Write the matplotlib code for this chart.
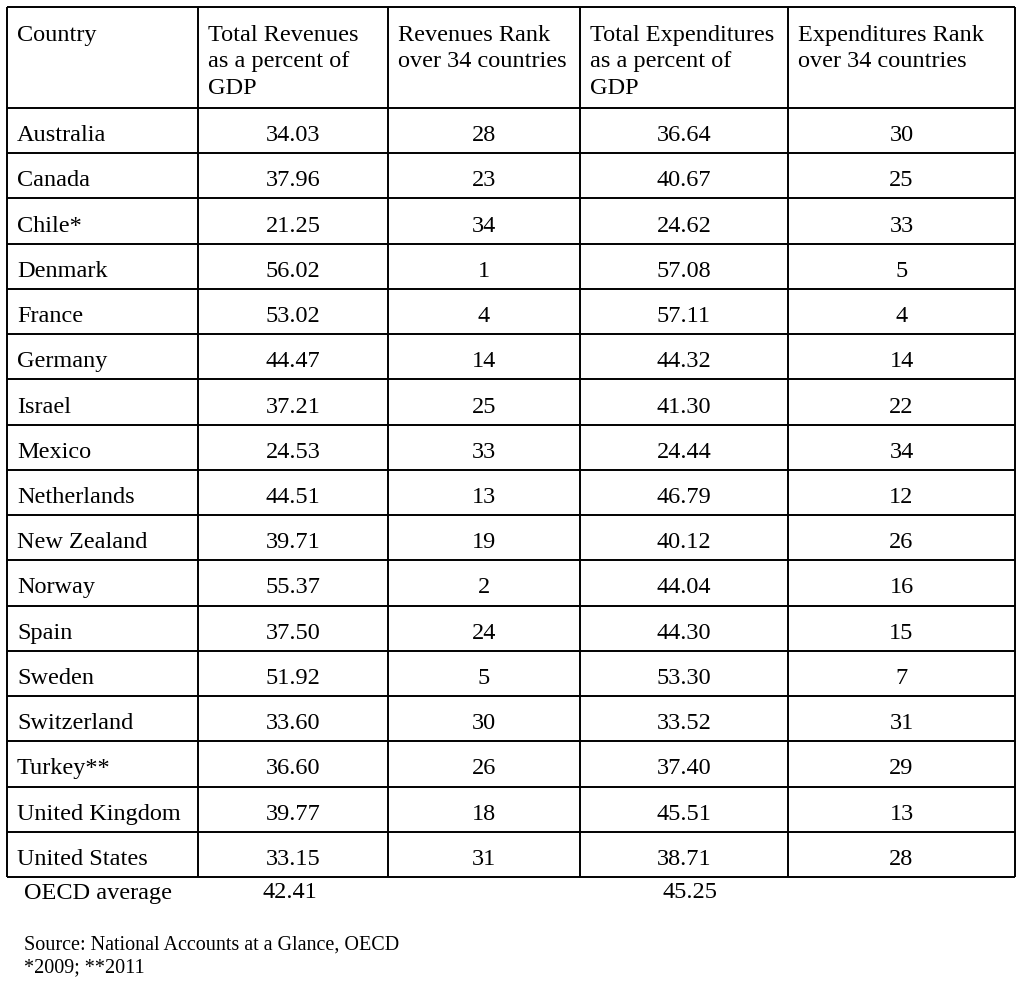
import matplotlib.pyplot as plt

countries = ["Australia", "Canada", "Chile*", "Denmark", "France", "Germany",
             "Israel", "Mexico", "Netherlands", "New Zealand", "Norway",
             "Spain", "Sweden", "Switzerland", "Turkey**", "United Kingdom",
             "United States"]
revenues = ["34.03", "37.96", "21.25", "56.02", "53.02", "44.47", "37.21",
            "24.53", "44.51", "39.71", "55.37", "37.50", "51.92", "33.60",
            "36.60", "39.77", "33.15"]
rev_rank = [28, 23, 34, 1, 4, 14, 25, 33, 13, 19, 2, 24, 5, 30, 26, 18, 31]
expenditures = ["36.64", "40.67", "24.62", "57.08", "57.11", "44.32", "41.30",
                "24.44", "46.79", "40.12", "44.04", "44.30", "53.30", "33.52",
                "37.40", "45.51", "38.71"]
exp_rank = [30, 25, 33, 5, 4, 14, 22, 34, 12, 26, 16, 15, 7, 31, 29, 13, 28]
headers = ["Country", "Total Revenues\nas a percent of\nGDP",
           "Revenues Rank\nover 34 countries",
           "Total Expenditures\nas a percent of\nGDP",
           "Expenditures Rank\nover 34 countries"]
oecd_rev = "42.41"
oecd_exp = "45.25"

plt.rcParams['font.family'] = ['Liberation Serif', 'DejaVu Serif']

fig = plt.figure(figsize=(10.24, 9.82), dpi=100)
ax = fig.add_axes([0, 0, 1, 1])
ax.set_xlim(0, 1024)
ax.set_ylim(982, 0)
ax.axis('off')

col_x = [7, 198, 388, 580, 788, 1015]
top = 7
header_bottom = 108
row_h = (877 - header_bottom) / len(countries)
row_y = [header_bottom + i * row_h for i in range(len(countries) + 1)]

lw = 1.4
ax.vlines(col_x, top, row_y[-1], color='black', lw=lw)
ax.hlines([top] + row_y, col_x[0], col_x[-1], color='black', lw=lw)

fs = 17.5
for j, h in enumerate(headers):
    ax.text(col_x[j] + 10, 24.5, h, fontsize=fs, ha='left', va='top',
            linespacing=1.37)

for i, c in enumerate(countries):
    yc = row_y[i] + row_h / 2 + 5
    cols = [c, revenues[i], str(rev_rank[i]), expenditures[i], str(exp_rank[i])]
    for j, val in enumerate(cols):
        if j == 0:
            ax.text(col_x[0] + 10, yc, val, fontsize=fs, ha='left', va='center')
        else:
            ax.text((col_x[j] + col_x[j + 1]) / 2, yc, val, fontsize=fs,
                    ha='center', va='center')

yo = 893
ax.text(24, yo, "OECD average", fontsize=fs, ha='left', va='center')
ax.text(290, yo, oecd_rev, fontsize=fs, ha='center', va='center')
ax.text(690, yo, oecd_exp, fontsize=fs, ha='center', va='center')

ax.text(24, 945, "Source: National Accounts at a Glance, OECD", fontsize=14.5,
        ha='left', va='center')
ax.text(24, 968, "*2009; **2011", fontsize=14.5, ha='left', va='center')

fig.savefig("out.png", dpi=100, facecolor='white')
